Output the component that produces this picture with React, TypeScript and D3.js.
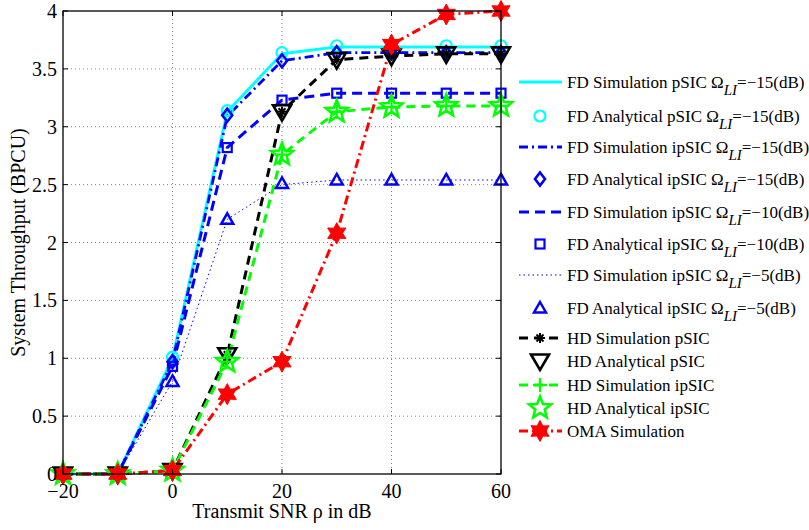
import React from "react";
import * as d3 from "d3";

const snr = [-20, -10, 0, 10, 20, 30, 40, 50, 60];
const fdSimPsic15 = [0, 0, 1.0, 3.13, 3.63, 3.69, 3.69, 3.69, 3.69];
const fdAnaPsic15 = [0, 0, 1.01, 3.14, 3.64, 3.7, 3.7, 3.7, 3.7];
const fdSimIpsic15 = [0, 0, 0.97, 3.09, 3.57, 3.64, 3.64, 3.64, 3.64];
const fdAnaIpsic15 = [0, 0, 0.97, 3.1, 3.57, 3.64, 3.64, 3.64, 3.64];
const fdSimIpsic10 = [0, 0, 0.93, 2.82, 3.23, 3.29, 3.29, 3.29, 3.29];
const fdAnaIpsic10 = [0, 0, 0.93, 2.82, 3.23, 3.29, 3.29, 3.29, 3.29];
const fdSimIpsic5 = [0, 0, 0.8, 2.2, 2.5, 2.54, 2.54, 2.54, 2.54];
const fdAnaIpsic5 = [0, 0, 0.8, 2.2, 2.51, 2.54, 2.54, 2.54, 2.54];
const hdSimPsic = [0, 0, 0.03, 1.03, 3.13, 3.58, 3.61, 3.63, 3.63];
const hdAnaPsic = [0, 0, 0.03, 1.03, 3.13, 3.58, 3.61, 3.63, 3.63];
const hdSimIpsic = [0, 0, 0.03, 0.97, 2.76, 3.13, 3.17, 3.18, 3.18];
const hdAnaIpsic = [0, 0, 0.03, 0.97, 2.76, 3.13, 3.17, 3.18, 3.18];
const omaSim = [0, 0, 0.03, 0.69, 0.97, 2.08, 3.71, 3.97, 4.0];

const xTicks = [-20, 0, 20, 40, 60];
const yTicks = [0, 0.5, 1, 1.5, 2, 2.5, 3, 3.5, 4];

const W = 809, H = 530;
const L = 63, R = 501, T = 11, B = 474;
const FONT = "'Liberation Serif', 'Times New Roman', serif";

type MarkerKind = "circle" | "diamond" | "square" | "triUp" | "triDown" | "star5" | "hexagram" | "plus" | "asterisk" | "none";

function starPath(cx: number, cy: number, n: number, ro: number, ri: number) {
  const pts: string[] = [];
  for (let i = 0; i < 2 * n; i++) {
    const r = i % 2 === 0 ? ro : ri;
    const a = -Math.PI / 2 + (i * Math.PI) / n;
    pts.push(`${(cx + r * Math.cos(a)).toFixed(2)},${(cy + r * Math.sin(a)).toFixed(2)}`);
  }
  return "M" + pts.join("L") + "Z";
}

function Marker({ kind, x, y, color }: { kind: MarkerKind; x: number; y: number; color: string }) {
  switch (kind) {
    case "circle":
      return <circle cx={x} cy={y} r={5.5} fill="none" stroke={color} strokeWidth={2.2} />;
    case "diamond":
      return <path d={`M${x},${y - 6.5}L${x + 5},${y}L${x},${y + 6.5}L${x - 5},${y}Z`} fill="none" stroke={color} strokeWidth={2.6} />;
    case "square":
      return <rect x={x - 4.5} y={y - 4.5} width={9} height={9} fill="none" stroke={color} strokeWidth={2.2} />;
    case "triUp":
      return <path d={`M${x},${y - 6}L${x + 6},${y + 4.5}L${x - 6},${y + 4.5}Z`} fill="none" stroke={color} strokeWidth={2.5} />;
    case "triDown":
      return <path d={`M${x - 9},${y - 6.5}L${x + 9},${y - 6.5}L${x},${y + 9}Z`} fill="none" stroke={color} strokeWidth={2.6} />;
    case "star5":
      return <path d={starPath(x, y, 5, 11.5, 5)} fill="none" stroke={color} strokeWidth={2.6} />;
    case "hexagram":
      return <path d={starPath(x, y, 6, 10.5, 5.8)} fill={color} stroke={color} strokeWidth={1} />;
    case "plus":
      return (
        <g stroke={color} strokeWidth={2.2}>
          <line x1={x - 7} y1={y} x2={x + 7} y2={y} />
          <line x1={x} y1={y - 7} x2={x} y2={y + 7} />
        </g>
      );
    case "asterisk":
      return (
        <g stroke={color} strokeWidth={2}>
          <line x1={x - 5} y1={y} x2={x + 5} y2={y} />
          <line x1={x} y1={y - 5} x2={x} y2={y + 5} />
          <line x1={x - 3.5} y1={y - 3.5} x2={x + 3.5} y2={y + 3.5} />
          <line x1={x - 3.5} y1={y + 3.5} x2={x + 3.5} y2={y - 3.5} />
        </g>
      );
    default:
      return null;
  }
}

type Series = {
  values: number[];
  color: string;
  width: number;
  dash: string | null;
  marker: MarkerKind;
  label: string;
  omega?: string;
  showLine: boolean;
};

const series: Series[] = [
  { values: fdSimPsic15, color: "#00FFFF", width: 3, dash: null, marker: "none", label: "FD Simulation pSIC ", omega: "−15(dB)", showLine: true },
  { values: fdAnaPsic15, color: "#00FFFF", width: 0, dash: null, marker: "circle", label: "FD Analytical pSIC ", omega: "−15(dB)", showLine: false },
  { values: fdSimIpsic15, color: "#0000FF", width: 2.8, dash: "9,4,2,4", marker: "none", label: "FD Simulation ipSIC ", omega: "−15(dB)", showLine: true },
  { values: fdAnaIpsic15, color: "#0000FF", width: 0, dash: null, marker: "diamond", label: "FD Analytical ipSIC ", omega: "−15(dB)", showLine: false },
  { values: fdSimIpsic10, color: "#0000FF", width: 3, dash: "10,6", marker: "none", label: "FD Simulation ipSIC ", omega: "−10(dB)", showLine: true },
  { values: fdAnaIpsic10, color: "#0000FF", width: 0, dash: null, marker: "square", label: "FD Analytical ipSIC ", omega: "−10(dB)", showLine: false },
  { values: fdSimIpsic5, color: "#0000FF", width: 1, dash: "1.5,3", marker: "none", label: "FD Simulation ipSIC ", omega: "−5(dB)", showLine: true },
  { values: fdAnaIpsic5, color: "#0000FF", width: 0, dash: null, marker: "triUp", label: "FD Analytical ipSIC ", omega: "−5(dB)", showLine: false },
  { values: hdSimPsic, color: "#000000", width: 3, dash: "9,6", marker: "asterisk", label: "HD Simulation pSIC", showLine: true },
  { values: hdAnaPsic, color: "#000000", width: 0, dash: null, marker: "triDown", label: "HD Analytical pSIC", showLine: false },
  { values: hdSimIpsic, color: "#00FF00", width: 3, dash: "9,6", marker: "plus", label: "HD Simulation ipSIC", showLine: true },
  { values: hdAnaIpsic, color: "#00FF00", width: 0, dash: null, marker: "star5", label: "HD Analytical ipSIC", showLine: false },
  { values: omaSim, color: "#FF0000", width: 3, dash: "9,4,2,4", marker: "hexagram", label: "OMA Simulation", showLine: true },
];

const legendY = [82, 116, 147, 179, 212, 244, 275, 308, 338, 361, 385, 408, 431];

export default function App() {
  const x = d3.scaleLinear().domain([-20, 60]).range([L, R]);
  const y = d3.scaleLinear().domain([0, 4]).range([B, T]);
  const line = d3
    .line<number>()
    .x((_, i) => x(snr[i]))
    .y((d) => y(d));

  return (
    <svg width={W} height={H} style={{ display: "block", position: "absolute", left: 0, top: 0, background: "#fff" }} fontFamily={FONT}>
      <rect x={0} y={0} width={W} height={H} fill="#fff" />
      {/* grid */}
      <g stroke="#808080" strokeWidth={1} strokeDasharray="1,3">
        {xTicks.slice(1, -1).map((t) => (
          <line key={"gx" + t} x1={x(t)} x2={x(t)} y1={T} y2={B} />
        ))}
        {yTicks.slice(1, -1).map((t) => (
          <line key={"gy" + t} x1={L} x2={R} y1={y(t)} y2={y(t)} />
        ))}
      </g>
      {/* series lines */}
      {series.map((s, i) =>
        s.showLine ? (
          <path key={"l" + i} d={line(s.values) || ""} fill="none" stroke={s.color} strokeWidth={s.width} strokeDasharray={s.dash || undefined} strokeLinejoin="round" />
        ) : null
      )}
      {/* markers */}
      {series.map((s, i) =>
        s.marker !== "none" ? (
          <g key={"m" + i}>
            {s.values.map((v, j) => (
              <Marker key={j} kind={s.marker} x={x(snr[j])} y={y(v)} color={s.color} />
            ))}
          </g>
        ) : null
      )}
      {/* axes box */}
      <rect x={L} y={T} width={R - L} height={B - T} fill="none" stroke="#000" strokeWidth={1.3} />
      <g stroke="#000" strokeWidth={1}>
        {xTicks.map((t) => (
          <g key={"tx" + t}>
            <line x1={x(t)} x2={x(t)} y1={B} y2={B - 5} />
            <line x1={x(t)} x2={x(t)} y1={T} y2={T + 5} />
          </g>
        ))}
        {yTicks.map((t) => (
          <g key={"ty" + t}>
            <line x1={L} x2={L + 5} y1={y(t)} y2={y(t)} />
            <line x1={R} x2={R - 5} y1={y(t)} y2={y(t)} />
          </g>
        ))}
      </g>
      {/* tick labels */}
      <g fontSize={20} fill="#000">
        {xTicks.map((t) => (
          <text key={"lx" + t} x={x(t)} y={498} textAnchor="middle">
            {t < 0 ? "−" + Math.abs(t) : t}
          </text>
        ))}
        {yTicks.map((t) => (
          <text key={"ly" + t} x={L - 6} y={y(t) + 7} textAnchor="end">
            {t}
          </text>
        ))}
      </g>
      <text x={282} y={518} textAnchor="middle" fontSize={20}>
        Transmit SNR ρ in dB
      </text>
      <text transform={`translate(25,${(T + B) / 2}) rotate(-90)`} textAnchor="middle" fontSize={20}>
        System Throughput (BPCU)
      </text>
      {/* legend */}
      {series.map((s, i) => {
        const ly = legendY[i];
        return (
          <g key={"lg" + i}>
            {s.showLine ? (
              <line x1={519} x2={562} y1={ly} y2={ly} stroke={s.color} strokeWidth={s.width} strokeDasharray={s.dash || undefined} />
            ) : null}
            {s.marker !== "none" ? <Marker kind={s.marker} x={540} y={ly} color={s.color} /> : null}
            <text x={567} y={ly + 6} fontSize={17} fill="#000">
              {s.label}
              {s.omega ? (
                <>
                  <tspan>Ω</tspan>
                  <tspan dy={7} fontStyle="italic" fontSize={15}>LI</tspan>
                  <tspan dy={-7}>={s.omega}</tspan>
                </>
              ) : null}
            </text>
          </g>
        );
      })}
    </svg>
  );
}
